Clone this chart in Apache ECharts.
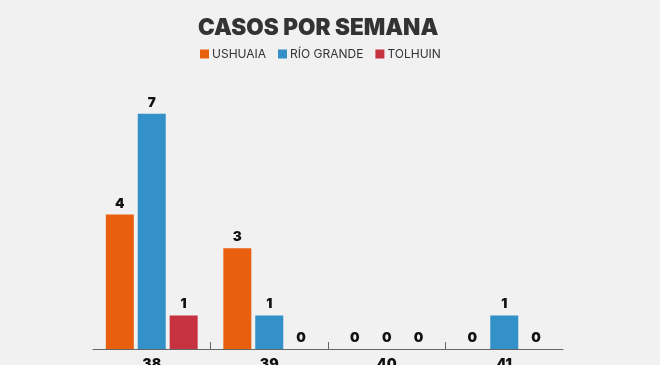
<!DOCTYPE html>
<html><head><meta charset="utf-8">
<script src="https://cdn.jsdelivr.net/npm/echarts@6/dist/echarts.min.js"></script>
<style>html,body{margin:0;padding:0;background:#f1f1f1;}#c{width:660px;height:365px;}</style>
</head><body><div id="c"></div>
<script>
const categories = ['38', '39', '40', '41'];
const ushuaia = [4, 3, 0, 0];
const rioGrande = [7, 1, 0, 1];
const tolhuin = [1, 0, 0, 0];
const seriesNames = ['USHUAIA', 'RÍO GRANDE', 'TOLHUIN'];
const colors = ['#e8600e', '#3390c8', '#c73241'];
const tickSlots = ['', '', '', '', ''];

const chart = echarts.init(document.getElementById('c'));
const label = {show: true, position: 'top', distance: 4, color: '#111', fontWeight: 900, fontSize: 13.5, fontFamily: 'Inter'};
chart.setOption({
  backgroundColor: '#f1f1f1',
  animation: false,
  color: colors,
  title: {text: 'CASOS POR SEMANA', left: 193, top: 12,
    textStyle: {fontFamily: 'Inter', fontWeight: 900, fontSize: 22.5, color: '#333'}},
  legend: {top: 43, left: 195, itemWidth: 9, itemHeight: 9, itemGap: 12, icon: 'rect',
    textStyle: {fontFamily: 'Inter', fontSize: 12, color: '#333', padding: [0, 0, 0, -2]},
    data: seriesNames},
  grid: {left: 93, right: 97, top: 80, bottom: 16, outerBoundsMode: 'none'},
  xAxis: [{type: 'category', data: categories,
    axisLine: {lineStyle: {color: '#666', width: 1.2}},
    axisTick: {show: false},
    axisLabel: {color: '#111', fontWeight: 900, fontSize: 14, fontFamily: 'Inter', margin: 9}},
   {type: 'category', data: tickSlots, boundaryGap: false, position: 'bottom',
    axisLine: {show: false}, axisLabel: {show: false},
    axisTick: {show: true, inside: true, length: 7, lineStyle: {color: '#666'},
      interval: function (i) { return i > 0 && i < tickSlots.length - 1; }}}],
  yAxis: {type: 'value', min: 0, max: 8, show: false, splitLine: {show: false}},
  series: [
    {name: seriesNames[0], type: 'bar', data: ushuaia, barWidth: 28, barGap: '14%', label: label},
    {name: seriesNames[1], type: 'bar', data: rioGrande, barWidth: 28, barGap: '14%', label: label},
    {name: seriesNames[2], type: 'bar', data: tolhuin, barWidth: 28, barGap: '14%', label: label}
  ]
});
</script></body></html>
